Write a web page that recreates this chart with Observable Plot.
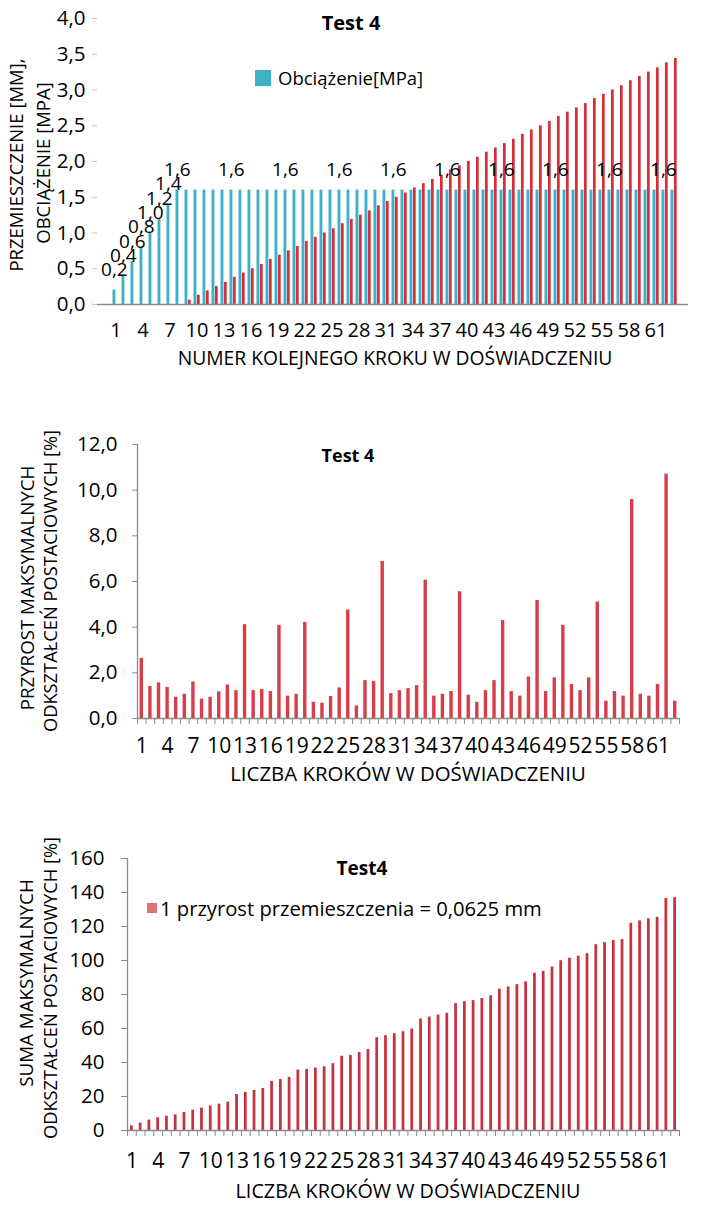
<!DOCTYPE html>
<html>
<head>
<meta charset="utf-8">
<script src="https://cdn.jsdelivr.net/npm/d3@7"></script>
<script src="https://cdn.jsdelivr.net/npm/@observablehq/plot@0.6"></script>
<style>
  body { margin: 0; background: #fff; }
  #wrap { position: relative; width: 705px; height: 1207px; overflow: hidden; font-family: "Open Sans", sans-serif; color: #000; }
  .chart { position: absolute; left: 0; }
  .t { position: absolute; white-space: nowrap; transform: translate(-50%, -50%); line-height: 1; }
  .l { position: absolute; white-space: nowrap; transform: translate(0, -50%); line-height: 1; }
  .yl { position: absolute; white-space: nowrap; transform: translate(-50%, -50%) rotate(-90deg); line-height: 1; }
  .sw { position: absolute; }
</style>
</head>
<body>
<div id="wrap">
  <div class="chart" id="c1" style="top:0px"></div>
  <div class="chart" id="c2" style="top:420px"></div>
  <div class="chart" id="c3" style="top:830px"></div>

  <!-- chart 1 texts -->
  <div class="t" style="left:351px; top:23px; font-weight:700; font-size:20px;">Test 4</div>
  <div class="sw" style="left:255px; top:70px; width:16px; height:16px; background:#3fb1c6;"></div>
  <div class="l" style="left:278px; top:78px; font-size:18.5px;">Obciążenie[MPa]</div>
  <div class="yl" style="left:16px; top:165px; font-size:18.5px;">PRZEMIESZCZENIE [MM],</div>
  <div class="yl" style="left:43px; top:163px; font-size:18.5px;">OBCIĄŻENIE [MPA]</div>
  <div class="t" style="left:395px; top:358px; font-size:19.3px;">NUMER KOLEJNEGO KROKU W DOŚWIADCZENIU</div>

  <!-- chart 2 texts -->
  <div class="t" style="left:348px; top:455px; font-weight:700; font-size:18px;">Test 4</div>
  <div class="yl" style="left:27px; top:588px; font-size:18.7px;">PRZYROST MAKSYMALNYCH</div>
  <div class="yl" style="left:50px; top:581px; font-size:18.3px;">ODKSZTAŁCEŃ POSTACIOWYCH [%]</div>
  <div class="t" style="left:408px; top:773px; font-size:20.4px;">LICZBA KROKÓW W DOŚWIADCZENIU</div>

  <!-- chart 3 texts -->
  <div class="t" style="left:362px; top:868px; font-weight:700; font-size:19px;">Test4</div>
  <div class="sw" style="left:147px; top:903px; width:10px; height:10px; background:#e0707c;"></div>
  <div class="l" style="left:160px; top:908px; font-size:20.2px;">1 przyrost przemieszczenia = 0,0625 mm</div>
  <div class="yl" style="left:26px; top:983px; font-size:18.8px;">SUMA MAKSYMALNYCH</div>
  <div class="yl" style="left:50px; top:988px; font-size:18.3px;">ODKSZTAŁCEŃ POSTACIOWYCH [%]</div>
  <div class="t" style="left:408px; top:1191px; font-size:19.8px;">LICZBA KROKÓW W DOŚWIADCZENIU</div>
</div>
<script>
// ---------- DATA ----------
const steps = d3.range(1, 64); // step numbers 1..63
const tickSteps = [1, 4, 7, 10, 13, 16, 19, 22, 25, 28, 31, 34, 37, 40, 43, 46, 49, 52, 55, 58, 61];

// Chart 1: load [MPa] (blue) and displacement [mm] (red)
const load = [0.2, 0.4, 0.6, 0.8, 1.0, 1.2, 1.4,
  1.6, 1.6, 1.6, 1.6, 1.6, 1.6, 1.6, 1.6, 1.6, 1.6, 1.6, 1.6, 1.6, 1.6,
  1.6, 1.6, 1.6, 1.6, 1.6, 1.6, 1.6, 1.6, 1.6, 1.6, 1.6, 1.6, 1.6, 1.6,
  1.6, 1.6, 1.6, 1.6, 1.6, 1.6, 1.6, 1.6, 1.6, 1.6, 1.6, 1.6, 1.6, 1.6,
  1.6, 1.6, 1.6, 1.6, 1.6, 1.6, 1.6, 1.6, 1.6, 1.6, 1.6, 1.6, 1.6, 1.6];
const displacement = [0, 0, 0, 0, 0, 0, 0, 0,
  0.06, 0.13, 0.19, 0.25, 0.31, 0.38, 0.44, 0.50, 0.56, 0.63, 0.69, 0.75,
  0.81, 0.88, 0.94, 1.00, 1.06, 1.13, 1.19, 1.25, 1.31, 1.38, 1.44, 1.50,
  1.56, 1.63, 1.69, 1.75, 1.81, 1.88, 1.94, 2.00, 2.06, 2.13, 2.19, 2.25,
  2.31, 2.38, 2.44, 2.50, 2.56, 2.63, 2.69, 2.75, 2.81, 2.88, 2.94, 3.00,
  3.06, 3.13, 3.19, 3.25, 3.31, 3.38, 3.44];

// Chart 2: increment of max. shear strains [%]
const increment = [2.64, 1.40, 1.56, 1.36, 0.93, 1.06, 1.60, 0.85, 0.93, 1.17,
  1.47, 1.22, 4.11, 1.22, 1.27, 1.18, 4.08, 0.98, 1.06, 4.21,
  0.71, 0.67, 0.96, 1.34, 4.75, 0.55, 1.66, 1.62, 6.88, 1.09,
  1.22, 1.31, 1.44, 6.06, 0.98, 1.06, 1.18, 5.55, 1.02, 0.71,
  1.22, 1.66, 4.29, 1.18, 0.98, 1.82, 5.17, 1.18, 1.78, 4.08,
  1.49, 1.22, 1.78, 5.10, 0.76, 1.18, 0.98, 9.59, 1.06, 0.98,
  1.49, 10.70, 0.76];

// Chart 3: sum of max. shear strains [%]
const cumulative = [2.7, 4.3, 6.1, 7.5, 8.4, 9.2, 10.6, 12.0, 13.2, 14.5,
  15.5, 16.7, 21.2, 22.4, 23.6, 24.7, 28.9, 30.0, 31.2, 35.5,
  35.9, 36.7, 37.5, 39.3, 43.7, 44.2, 45.9, 47.7, 54.6, 55.8,
  56.9, 58.1, 59.7, 65.6, 66.7, 67.9, 68.9, 74.6, 75.8, 76.4,
  77.7, 79.3, 83.2, 84.4, 85.8, 87.4, 92.5, 93.6, 96.2, 99.9,
  101.3, 102.5, 104.0, 109.3, 110.5, 111.7, 112.3, 121.9, 123.3, 124.5,
  125.4, 136.4, 137.0];

const y1Ticks = [0, 0.5, 1.0, 1.5, 2.0, 2.5, 3.0, 3.5, 4.0];
const y2Ticks = [0, 2, 4, 6, 8, 10, 12];
const y3Ticks = [0, 20, 40, 60, 80, 100, 120, 140, 160];

// ---------- HELPERS ----------
const fmt1 = d => d.toFixed(1).replace(".", ",");
const FONT = "'Open Sans', sans-serif";
const AXIS_GRAY = "#8a8a8a";
const STYLE = {fontFamily: FONT, fontSize: "18px", color: "#000", background: "transparent", overflow: "visible"};

// ---------- CHART 1 ----------
const rows1 = steps.map((s, i) => ({step: s, load: load[i], disp: displacement[i]}));
const c1 = Plot.plot({
  width: 705, height: 390,
  marginTop: 18, marginBottom: 86, marginLeft: 97, marginRight: 17,
  style: STYLE,
  x: {type: "band", domain: steps, range: [101.85, 687.75], padding: 0, axis: null},
  y: {domain: [0, 4], axis: null},
  marks: [
    Plot.barY(rows1, {x: "step", y: "load", fill: "#3fb1c6", insetLeft: 1.5, insetRight: 4.6}),
    Plot.barY(rows1.filter(d => d.disp > 0), {x: "step", y: "disp", fill: "#d3303c", insetLeft: 4.95, insetRight: 1.3}),
    Plot.ruleY([0], {stroke: AXIS_GRAY, strokeWidth: 1.3}),
    Plot.axisY({ticks: y1Ticks, tickFormat: fmt1, tickSize: 5, tickPadding: 7, stroke: "#c8c8c8", fill: "#000", fontSize: 20.5, label: null}),
    Plot.axisX({ticks: tickSteps, tickSize: 0, tickPadding: 18, fill: "#000", fontSize: 20, label: null}),
    Plot.text(rows1.filter((d, i) => i < 8 || (i - 7) % 6 === 0), {
      x: "step", y: "load", text: d => fmt1(d.load), dx: -1.6, dy: -20, fontSize: 19, fill: "#000"
    })
  ]
});
document.getElementById("c1").appendChild(c1);

// ---------- CHART 2 ----------
const rows2 = steps.map((s, i) => ({step: s, v: increment[i]}));
const bw2 = (705 - 26 - 137) / 63;
const c2 = Plot.plot({
  width: 705, height: 380,
  marginTop: 24, marginBottom: 82, marginLeft: 137, marginRight: 26,
  style: STYLE,
  x: {type: "band", domain: steps, padding: 0, axis: null},
  y: {domain: [0, 12], axis: null},
  marks: [
    Plot.barY(rows2, {x: "step", y: "v", fill: "#d63e4a", insetLeft: 2.6, insetRight: 2.6}),
    Plot.ruleY([0], {stroke: AXIS_GRAY, strokeWidth: 1.3}),
    Plot.ruleX([steps[0]], {x: d => d, y1: 0, y2: 12, dx: -bw2 / 2, stroke: AXIS_GRAY, strokeWidth: 1.3}),
    Plot.axisY({ticks: y2Ticks, tickFormat: fmt1, tickSize: 5, tickPadding: 15, stroke: AXIS_GRAY, fill: "#000", fontSize: 20.5, label: null}),
    Plot.axisX({ticks: steps, tickFormat: () => "", tickSize: 6, dx: -bw2 / 2, stroke: AXIS_GRAY, label: null}),
    Plot.axisX({ticks: [steps[steps.length - 1]], tickFormat: () => "", tickSize: 6, dx: bw2 / 2, stroke: AXIS_GRAY, label: null}),
    Plot.axisX({ticks: tickSteps, tickSize: 0, tickPadding: 19.5, fill: "#000", fontSize: 21, label: null})
  ]
});
document.getElementById("c2").appendChild(c2);

// ---------- CHART 3 ----------
const rows3 = steps.map((s, i) => ({step: s, v: cumulative[i]}));
const bw3 = (705 - 26 - 127) / 63;
const c3 = Plot.plot({
  width: 705, height: 377,
  marginTop: 28, marginBottom: 77, marginLeft: 127, marginRight: 26,
  style: STYLE,
  x: {type: "band", domain: steps, padding: 0, axis: null},
  y: {domain: [0, 160], axis: null},
  marks: [
    Plot.barY(rows3, {x: "step", y: "v", fill: "#c8313f", insetLeft: 3, insetRight: 3}),
    Plot.ruleY([0], {stroke: AXIS_GRAY, strokeWidth: 1.3}),
    Plot.ruleX([steps[0]], {x: d => d, y1: 0, y2: 160, dx: -bw3 / 2, stroke: AXIS_GRAY, strokeWidth: 1.3}),
    Plot.axisY({ticks: y3Ticks, tickFormat: d => String(d), tickSize: 6, tickPadding: 17, stroke: AXIS_GRAY, fill: "#000", fontSize: 20.5, label: null}),
    Plot.axisX({ticks: steps, tickFormat: () => "", tickSize: 6, dx: -bw3 / 2, stroke: AXIS_GRAY, label: null}),
    Plot.axisX({ticks: [steps[steps.length - 1]], tickFormat: () => "", tickSize: 6, dx: bw3 / 2, stroke: AXIS_GRAY, label: null}),
    Plot.axisX({ticks: tickSteps, tickSize: 0, tickPadding: 22.5, fill: "#000", fontSize: 21, label: null})
  ]
});
document.getElementById("c3").appendChild(c3);
</script>
</body>
</html>
